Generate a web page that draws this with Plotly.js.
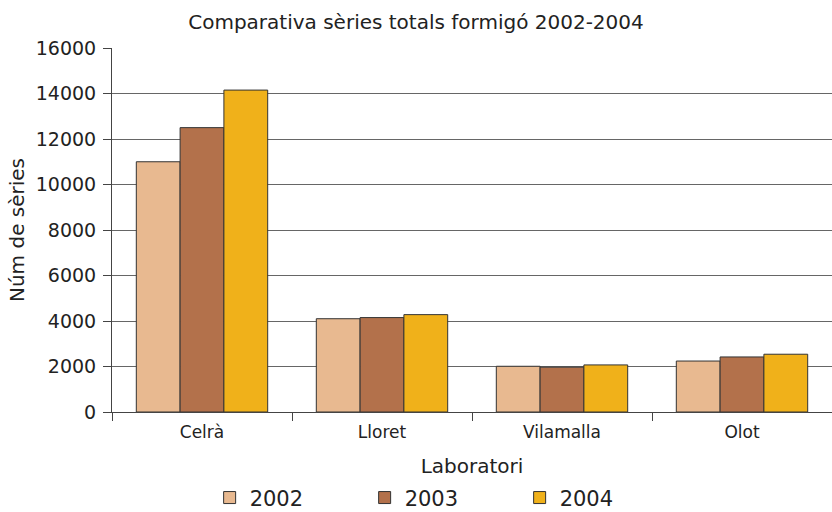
<!DOCTYPE html>
<html><head><meta charset="utf-8">
<script src="https://cdn.plot.ly/plotly-3.0.1.min.js"></script>
<style>body{margin:0;background:#fff}#c{width:832px;height:512px}</style>
</head><body><div id="c"></div>
<script>
const categories = ["Celrà", "Lloret", "Vilamalla", "Olot"];
const years = ["2002", "2003", "2004"];
const v2002 = [11000, 4100, 2010, 2240];
const v2003 = [12500, 4150, 1970, 2420];
const v2004 = [14150, 4280, 2070, 2540];
const colors = ["#E8B990", "#B3714B", "#F0B11A"];
const series = [v2002, v2003, v2004];
const traces = series.map((vals, i) => ({
  type: "bar", name: years[i], x: categories, y: vals,
  marker: {color: colors[i], line: {color: "#333333", width: 1}}
}));
const font = "DejaVu Sans, Verdana, sans-serif";
const layout = {
  width: 832, height: 512,
  margin: {l: 112, r: 0, t: 48, b: 100, autoexpand: false},
  paper_bgcolor: "#fff", plot_bgcolor: "#fff",
  font: {family: font, color: "#222", size: 16},
  title: {text: "Comparativa sèries totals formigó 2002-2004", x: 0.5, xref: "container", xanchor: "center", y: 0.957, yanchor: "middle", font: {size: 20, family: font, color: "#222"}},
  barmode: "group", bargap: 0.27, bargroupgap: 0,
  xaxis: {
    title: {text: "Laboratori", font: {size: 20}, standoff: 17},
    tickson: "boundaries", ticks: "outside", ticklen: 8, tickcolor: "#444",
    showline: true, linecolor: "#444", linewidth: 1, automargin: false,
    tickfont: {size: 17}, showgrid: false, ticklabelstandoff: 5
  },
  yaxis: {
    title: {text: "Núm de sèries", font: {size: 20}, standoff: 5},
    range: [0, 16000], dtick: 2000, tickformat: "d",
    ticks: "outside", ticklen: 8, tickcolor: "#444", automargin: false,
    showline: true, linecolor: "#444", linewidth: 1,
    showgrid: true, gridcolor: "#666", gridwidth: 1,
    tickfont: {size: 19}, zeroline: false, ticklabelstandoff: 3
  },
  legend: {orientation: "h", x: 0.1356, xanchor: "left", y: -0.236, yanchor: "middle",
    font: {size: 21}, entrywidth: 110, itemwidth: 30, traceorder: "normal"},
  showlegend: true
};
Plotly.newPlot("c", traces, layout, {displayModeBar: false, staticPlot: true});
</script></body></html>
